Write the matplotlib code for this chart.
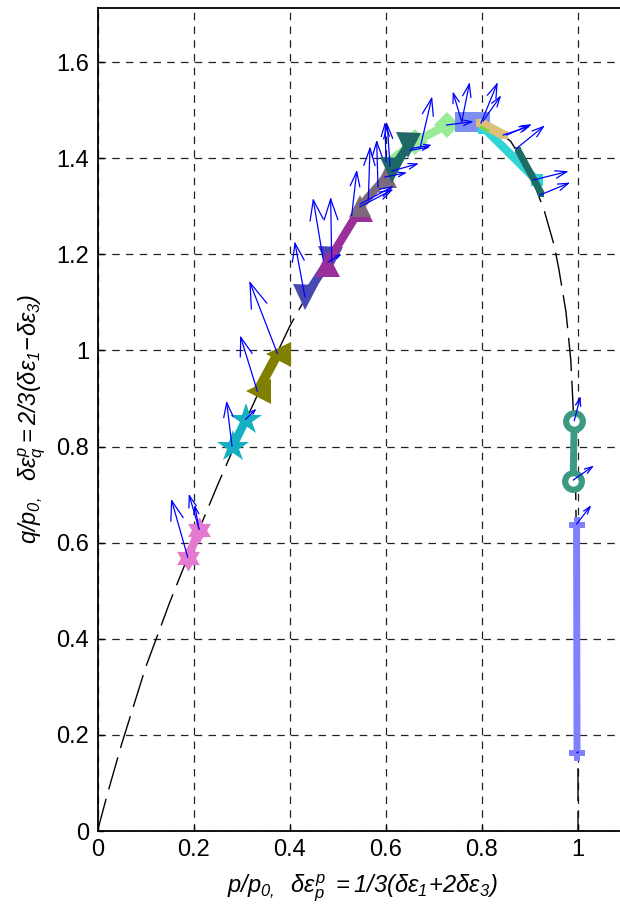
import numpy as np
import matplotlib
matplotlib.use("Agg")
import matplotlib.pyplot as plt
from matplotlib.path import Path

plt.rcParams['font.family'] = ['Liberation Sans', 'DejaVu Sans']
plt.rcParams['mathtext.fontset'] = 'custom'
plt.rcParams['mathtext.rm'] = 'Liberation Sans:italic'
plt.rcParams['mathtext.it'] = 'Liberation Sans:italic'
plt.rcParams['mathtext.bf'] = 'Liberation Sans:bold'

# ---- yield curve (dashed) ----
curve_p = [0.0, 0.02, 0.05, 0.10, 0.15, 0.20, 0.25, 0.30, 0.35, 0.40, 0.45, 0.50,
           0.55, 0.60, 0.65, 0.70, 0.75, 0.78, 0.80, 0.83, 0.86, 0.90, 0.93, 0.95,
           0.96, 0.975, 0.985, 0.99, 0.995, 0.998, 1.0, 1.0]
curve_q = [0.0, 0.075, 0.18, 0.34, 0.475, 0.60, 0.72, 0.835, 0.945, 1.05, 1.14, 1.218,
           1.295, 1.36, 1.415, 1.452, 1.474, 1.478, 1.475, 1.458, 1.435, 1.37, 1.29, 1.22,
           1.17, 1.08, 0.98, 0.88, 0.72, 0.5, 0.3, 0.0]

# ---- stress path segments ----
seg_p = [[0.188, 0.212], [0.281, 0.309], [0.333, 0.375], [0.432, 0.484],
         [0.477, 0.547], [0.547, 0.600], [0.605, 0.661, 0.727], [0.612, 0.647],
         [0.765, 0.796], [0.796, 0.815], [0.796, 0.845], [0.805, 0.914],
         [0.875, 0.924], [0.992, 0.990], [0.997, 0.998]]
seg_q = [[0.569, 0.627], [0.800, 0.856], [0.915, 0.993], [1.111, 1.191],
         [1.180, 1.295], [1.300, 1.360], [1.392, 1.434, 1.469], [1.375, 1.427],
         [1.476, 1.476], [1.466, 1.456], [1.474, 1.448], [1.462, 1.354],
         [1.417, 1.326], [0.853, 0.729], [0.6375, 0.163]]
seg_color = ['#e47ad0', '#14b0c2', '#808000', '#4848b2', '#9a2f9a', '#7c6a7c',
             '#98ec98', '#1f6868', '#7e8df2', '#66dd22', '#dcc07a', '#30d4d4',
             '#1d6c68', '#3d9a82', '#8080ff']

# hexagram marker shape (MATLAB 'h')
_ang = np.pi / 2 + np.arange(12) * np.pi / 6
_rad = np.where(np.arange(12) % 2 == 0, 1.0, 1.0 / np.sqrt(3))
_verts = np.column_stack([_rad * np.cos(_ang), _rad * np.sin(_ang)])
hexagram = Path(np.vstack([_verts, _verts[:1]]), closed=True)

seg_marker = [hexagram, '*', '<', 'v', '^', '^', 'D', 'v', 's', None, 's', 's',
              's', 'o', 'P']
seg_ms = [19, 24, 18, 18, 18, 16, 13, 18, 15, 0, 6, 8, 5, 12, 11]
seg_lw = [6, 6, 7, 6, 6, 6, 6, 6, 6, 1.5, 7, 6, 5, 5, 5]
seg_order = [0, 1, 2, 3, 4, 5, 6, 7, 8, 11, 10, 9, 12, 13, 14]

# ---- plastic strain increment arrows (tail p, tail q, dp, dq) ----
arr_x = [0.1877, 0.2112, 0.2112, 0.2799, 0.3084, 0.3326, 0.3742, 0.4318, 0.4699,
         0.4874, 0.4797, 0.5290, 0.5636, 0.5463, 0.5463, 0.5838, 0.6087, 0.6004,
         0.5983, 0.6129, 0.6712, 0.6504, 0.6545, 0.7580, 0.7580, 0.7268, 0.7981,
         0.8023, 0.8445, 0.8516, 0.8724, 0.9070, 0.9209, 0.9923, 0.9902, 0.9973,
         0.998]
arr_y = [0.5701, 0.6284, 0.6284, 0.8011, 0.8566, 0.9155, 0.9940, 1.1111, 1.1881,
         1.1846, 1.1840, 1.2807, 1.3129, 1.2990, 1.3046, 1.3400, 1.3837, 1.3941,
         1.3608, 1.3733, 1.4205, 1.4163, 1.4205, 1.4759, 1.4759, 1.4690, 1.4732,
         1.4773, 1.4482, 1.4482, 1.4205, 1.3546, 1.3234, 0.8537, 0.7303, 0.6388,
         0.163]
arr_u = [-0.0333, -0.0201, -0.0083, -0.0110, 0.0194, -0.0346, -0.0568, -0.0208, -0.0208,
         -0.0021, 0.0250, 0.0104, 0.0035, 0.0660, 0.0666, -0.0027, -0.0056, -0.0021,
         0.0416, 0.0520, 0.0243, 0.0374, 0.0375, -0.0175, 0.0158, 0.0520, 0.0333,
         0.0354, 0.0521, 0.0485, 0.0554, 0.0695, 0.0589, 0.0119, 0.0396, 0.0277,
         0.002]
arr_v = [0.1172, 0.0693, 0.0464, 0.0901, 0.0194, 0.1118, 0.1469, 0.1118, 0.1248,
         0.1304, 0.0146, 0.0911, 0.1076, 0.0347, 0.0354, 0.0942, 0.0853, 0.0770,
         0.0083, 0.0146, 0.1040, 0.0063, 0.0062, 0.0591, 0.0784, 0.0069, 0.0811,
         0.0500, 0.0173, 0.0208, 0.0450, 0.0172, 0.0243, 0.0473, 0.0277, 0.0360,
         0.001]

xticks = [0, 0.2, 0.4, 0.6, 0.8, 1.0]
xticklabels = ['0', '0.2', '0.4', '0.6', '0.8', '1']
yticks = [0, 0.2, 0.4, 0.6, 0.8, 1.0, 1.2, 1.4, 1.6]
yticklabels = ['0', '0.2', '0.4', '0.6', '0.8', '1', '1.2', '1.4', '1.6']

fig = plt.figure(figsize=(6.2, 9.18), dpi=100)
ax = fig.add_axes([97.5 / 620, 87 / 918, 1.1 * 480.5 / 620, (831 - 7.5) / 918])

ax.plot(curve_p, curve_q, color='black', lw=1.0, linestyle=(0, (24, 7)), zorder=2)

for i in seg_order:
    m = seg_marker[i]
    kw = {}
    if isinstance(m, str) and m == 'o':
        kw = dict(markerfacecolor='white', markeredgewidth=4.5)
    elif m is not None:
        kw = dict(markeredgewidth=0)
    if len(seg_p[i]) == 3:
        kw['markevery'] = [1, 2]
    ax.plot(seg_p[i], seg_q[i], color=seg_color[i], lw=seg_lw[i],
            marker=m, markersize=seg_ms[i], solid_capstyle='butt', zorder=3, **kw)

# quiver-style open arrows (MATLAB head geometry)
alpha, beta = 0.33, 0.33
X = np.array(arr_x); Y = np.array(arr_y)
U = np.array(arr_u); V = np.array(arr_v)
for x, y, u, v in zip(X, Y, U, V):
    ax.plot([x, x + u], [y, y + v], color='blue', lw=0.9, zorder=5)
    hx = [x + u - alpha * (u + beta * v), x + u, x + u - alpha * (u - beta * v)]
    hy = [y + v - alpha * (v - beta * u), y + v, y + v - alpha * (v + beta * u)]
    ax.plot(hx, hy, color='blue', lw=0.9, zorder=5)

ax.set_xlim(0, 1.1)
ax.set_ylim(0, 1.7135)
ax.set_xticks(xticks)
ax.set_xticklabels(xticklabels)
ax.set_yticks(yticks)
ax.set_yticklabels(yticklabels)
ax.tick_params(direction='in', length=4, labelsize=17, pad=6, width=1)
ax.grid(True, color='#222222', linestyle=(0, (6, 5)), lw=0.9)
ax.set_axisbelow(True)
for s in ax.spines.values():
    s.set_linewidth(1.3)

ax.set_xlabel(r'$p/p_{0,}\ \ \delta\varepsilon^p_p\ = 1/3(\delta\varepsilon_1\!+\!2\delta\varepsilon_3)$',
              fontsize=17, labelpad=8)
ax.set_ylabel(r'$q/p_{0,}\ \ \delta\varepsilon^p_q = 2/3(\delta\varepsilon_1\!-\!\delta\varepsilon_3)$',
              fontsize=17, labelpad=6)

fig.savefig('out.png', dpi=100)
